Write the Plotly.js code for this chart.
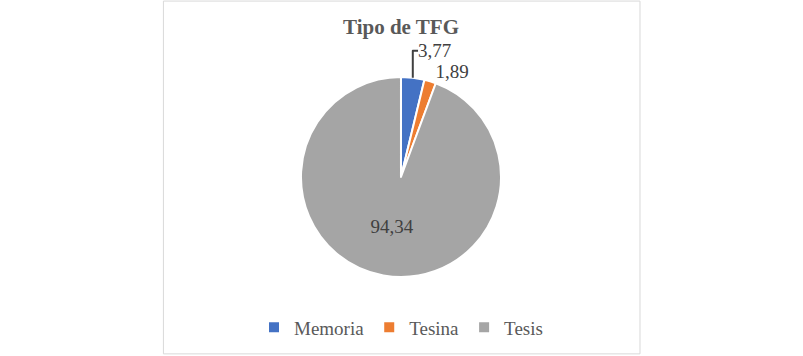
<!DOCTYPE html>
<html>
<head>
<meta charset="utf-8">
<script src="https://cdn.plot.ly/plotly-3.0.1.min.js"></script>
<style>html,body{margin:0;padding:0;background:#fff;}#chart{width:803px;height:356px;}</style>
</head>
<body>
<div id="chart"></div>
<script>
const categories = ["Memoria", "Tesina", "Tesis"];
const values = [3.77, 1.89, 94.34];
const colors = ["#4472C4", "#ED7D31", "#A5A5A5"];
const chartTitle = "Tipo de TFG";
const FONT = "'Liberation Serif', 'Times New Roman', 'DejaVu Serif', serif";

const trace = {
  type: "pie",
  labels: categories,
  values: values,
  sort: false,
  direction: "clockwise",
  rotation: 0,
  marker: {colors: colors, line: {color: "#ffffff", width: 2}},
  texttemplate: "%{value:.2f}",
  textposition: ["outside", "outside", "inside"],
  insidetextorientation: "horizontal",
  textfont: {family: FONT, size: 19, color: "#404040"},
  outsidetextfont: {family: FONT, size: 19, color: "#404040"},
  hoverinfo: "none",
  automargin: false,
  domain: {x: [0.3748, 0.6239], y: [0.2219, 0.7837]}
};

const layout = {
  width: 803, height: 356,
  margin: {l: 0, r: 0, t: 0, b: 0},
  paper_bgcolor: "#ffffff",
  separators: ",.",
  font: {family: FONT},
  title: {text: "<b>" + chartTitle + "</b>", x: 0.4994, xanchor: "center", y: 0.925, yanchor: "middle",
          font: {family: FONT, size: 21, color: "#595959"}},
  showlegend: true,
  legend: {orientation: "h", x: 0.4994, xanchor: "center", y: 0.08, yanchor: "middle",
           font: {family: FONT, size: 19, color: "#595959"}, itemwidth: 30, tracegroupgap: 0},
  shapes: [{type: "rect", xref: "paper", yref: "paper", x0: 0.2035, x1: 0.797, y0: 0.006, y1: 0.997,
            line: {color: "#d9d9d9", width: 1}}]
};

Plotly.newPlot("chart", [trace], layout, {displayModeBar: false, staticPlot: true});
</script>
</body>
</html>
